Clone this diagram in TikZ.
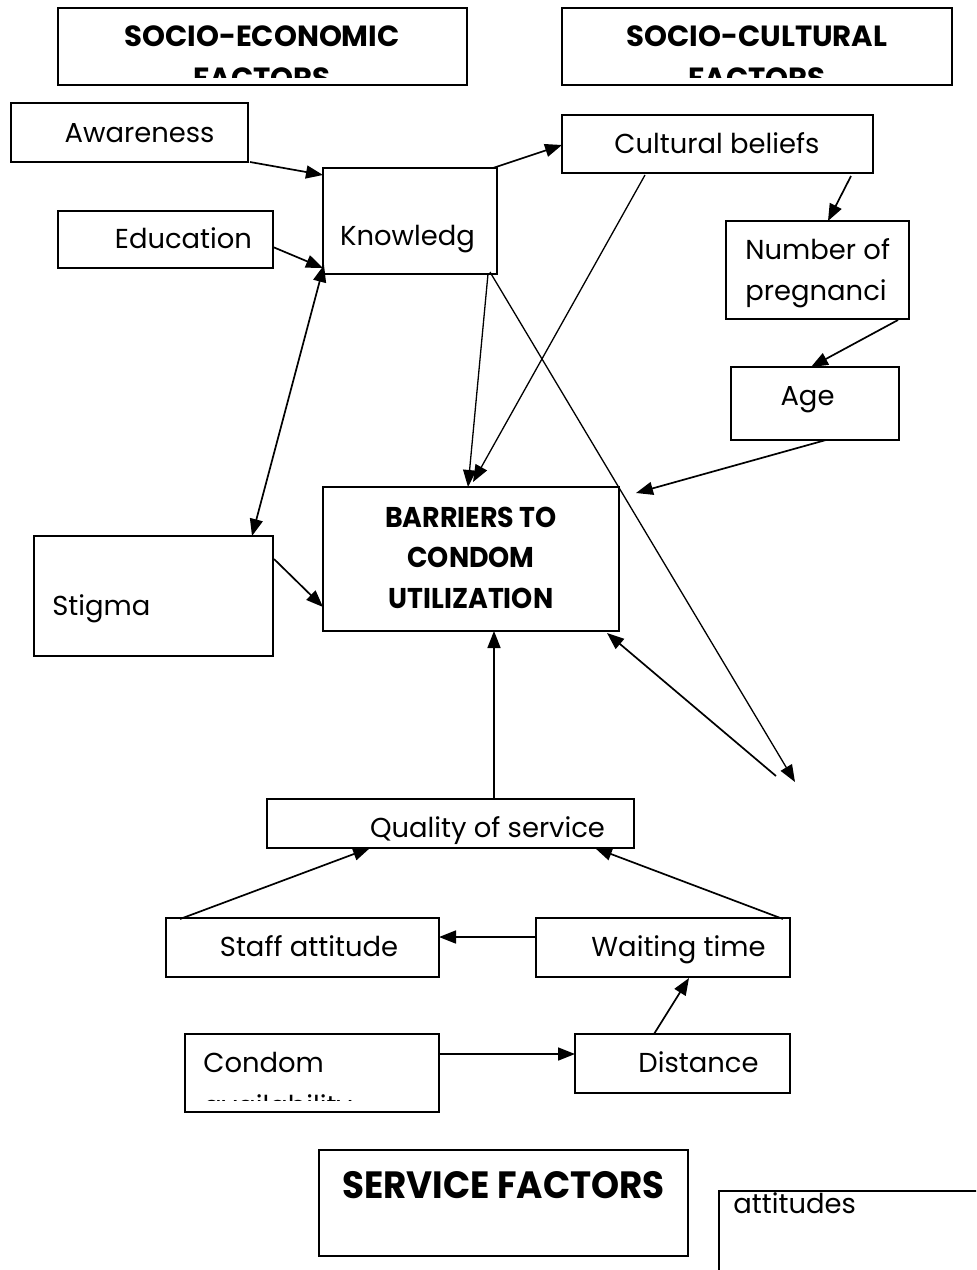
\documentclass[tikz,border=0pt]{standalone}
\usepackage{fontspec}
\setmainfont{Poppins}
\newfontfamily\condbold[FakeStretch=0.94]{Poppins Bold}
\usetikzlibrary{arrows.meta,calc}
\newcommand\mkbox[5]{\node[box, minimum width={(#4-#2)*0.5pt}, minimum height={(#5-#3)*0.5pt}] (#1) at ({(#2+#4)/2},{(#3+#5)/2}) {};}
\tikzset{
  box/.style={draw, line width=0.9pt, inner sep=0pt, outer sep=0pt, rectangle},
  txt/.style={inner sep=0pt, anchor=base, font=\fontsize{13.7}{21}\selectfont},
  txtw/.style={inner sep=0pt, anchor=base west, font=\fontsize{13.7}{21}\selectfont},
  head/.style={inner sep=0pt, anchor=base, font=\fontsize{14.6}{21}\selectfont\bfseries},
  cond/.style={inner sep=0pt, anchor=base, font=\fontsize{14.3}{21}\condbold},
  tip/.tip={Triangle[length=8.5pt,width=6.5pt]},
  conn/.style={line width=0.85pt, -tip},
  connb/.style={line width=0.85pt, tip-tip},
  lconn/.style={line width=0.65pt, -tip},
}
\begin{document}
\begin{tikzpicture}[x=0.5pt,y=-0.5pt]
\useasboundingbox (0,0) rectangle (976,1270);
\clip (0,0) rectangle (976,1270);
% boxes
\mkbox{se}{58}{8}{467}{85}
\mkbox{sc}{562}{8}{952}{85}
\mkbox{aw}{11}{103}{248}{162}
\mkbox{ed}{58}{211}{273}{268}
\mkbox{kn}{323}{168}{497}{274}
\mkbox{cb}{562}{115}{873}{173}
\mkbox{np}{726}{221}{909}{319}
\mkbox{age}{731}{367}{899}{440}
\mkbox{st}{34}{536}{273}{656}
\mkbox{bar}{323}{487}{619}{631}
\mkbox{qos}{267}{799}{634}{848}
\mkbox{sa}{166}{918}{439}{977}
\mkbox{wt}{536}{918}{790}{977}
\mkbox{ca}{185}{1034}{439}{1112}
\mkbox{di}{575}{1034}{790}{1093}
\mkbox{sf}{319}{1150}{688}{1256}
\mkbox{att}{719}{1191}{1000}{1300}
% texts
\node[head] (se-t1) at (262,46) {SOCIO-ECONOMIC};
\begin{scope}
\clip (58,8) rectangle (467,77);
\node[head] (se-t2) at (262,88) {FACTORS};
\end{scope}
\node[head] (sc-t1) at (757,46) {SOCIO-CULTURAL};
\begin{scope}
\clip (562,8) rectangle (952,77);
\node[head] (sc-t2) at (757,88) {FACTORS};
\end{scope}
\node[txt] (aw-t) at (139.5,142) {Awareness};
\node[txt] (ed-t) at (183.5,248) {Education};
\node[txt] (kn-t) at (407.5,245) {Knowledg};
\node[txt] (cb-t) at (717,153) {Cultural beliefs};
\node[txtw] (np-t1) at (745,259) {Number of};
\node[txtw] (np-t2) at (745,300) {pregnanci};
\node[txt] (age-t) at (807.5,405) {Age};
\node[txtw] (st-t) at (52,615) {Stigma};
\node[cond] (bar-t1) at (471,527) {BARRIERS TO};
\node[cond] (bar-t2) at (471,567) {CONDOM};
\node[cond] (bar-t3) at (471,608) {UTILIZATION};
\node[txt] (qos-t) at (487.5,837) {Quality of service};
\node[txt] (sa-t) at (309,956) {Staff attitude};
\node[txt] (wt-t) at (678.5,956) {Waiting time};
\node[txtw] (ca-t1) at (203,1072) {Condom};
\begin{scope}
\clip (185,1034) rectangle (439,1100);
\node[txtw] (ca-t2) at (203,1115) {availability};
\end{scope}
\node[txt] (di-t) at (698.5,1072) {Distance};
\node[cond, font=\fontsize{19}{21}\condbold] (sf-t) at (503.5,1198) {SERVICE FACTORS};
\node[txtw] (att-t) at (733,1213) {attitudes};
% free ends
\coordinate (fr1) at (795,782);
\coordinate (fr2) at (776,776);
% connectors
\draw[conn] ($(aw.south east)+(2,0)$) -- ($(kn.north west)+(0,7)$);
\draw[conn] ($(ed.east)+(0,7.5)$) -- ($(kn.south west)+(0,-6)$);
\draw[connb] ($(st.north east)+(-21,0)$) -- ($(kn.south west)+(1,-9)$);
\draw[conn] ($(kn.north east)+(-4,0)$) -- ($(cb.west)+(0,1)$);
\draw[lconn] ($(kn.south east)+(-9,0)$) -- ($(bar.north)+(-3,0)$);
\draw[lconn] ($(cb.south west)+(83,2)$) -- ($(bar.north)+(2,-5)$);
\draw[conn] ($(cb.south east)+(-22,3)$) -- ($(np.north west)+(102,0)$);
\draw[conn] ($(np.south east)+(-11,1)$) -- ($(age.north west)+(80,0)$);
\draw[conn] ($(age.south west)+(95,0)$) -- ($(bar.north east)+(17,6)$);
\draw[lconn] ($(kn.south east)+(-7,-2)$) -- (fr1);
\draw[conn] (fr2) -- ($(bar.south east)+(-12,2)$);
\draw[conn] ($(st.north east)+(1,23)$) -- ($(bar.west)+(0,48)$);
\draw[conn] ($(qos.north)+(43.5,0)$) -- ($(bar.south)+(23,0)$);
\draw[conn] ($(sa.north west)+(14,1)$) -- ($(qos.south west)+(103,0)$);
\draw[conn] ($(wt.north east)+(-7,1)$) -- ($(qos.south west)+(328,0)$);
\draw[conn] ($(wt.west)+(0,-10.5)$) -- ($(sa.east)+(0,-10.5)$);
\draw[conn] ($(ca.east)+(0,-19)$) -- ($(di.west)+(0,-9.5)$);
\draw[conn] ($(di.north west)+(79,0)$) -- ($(wt.south west)+(153,1)$);
\end{tikzpicture}
\end{document}
